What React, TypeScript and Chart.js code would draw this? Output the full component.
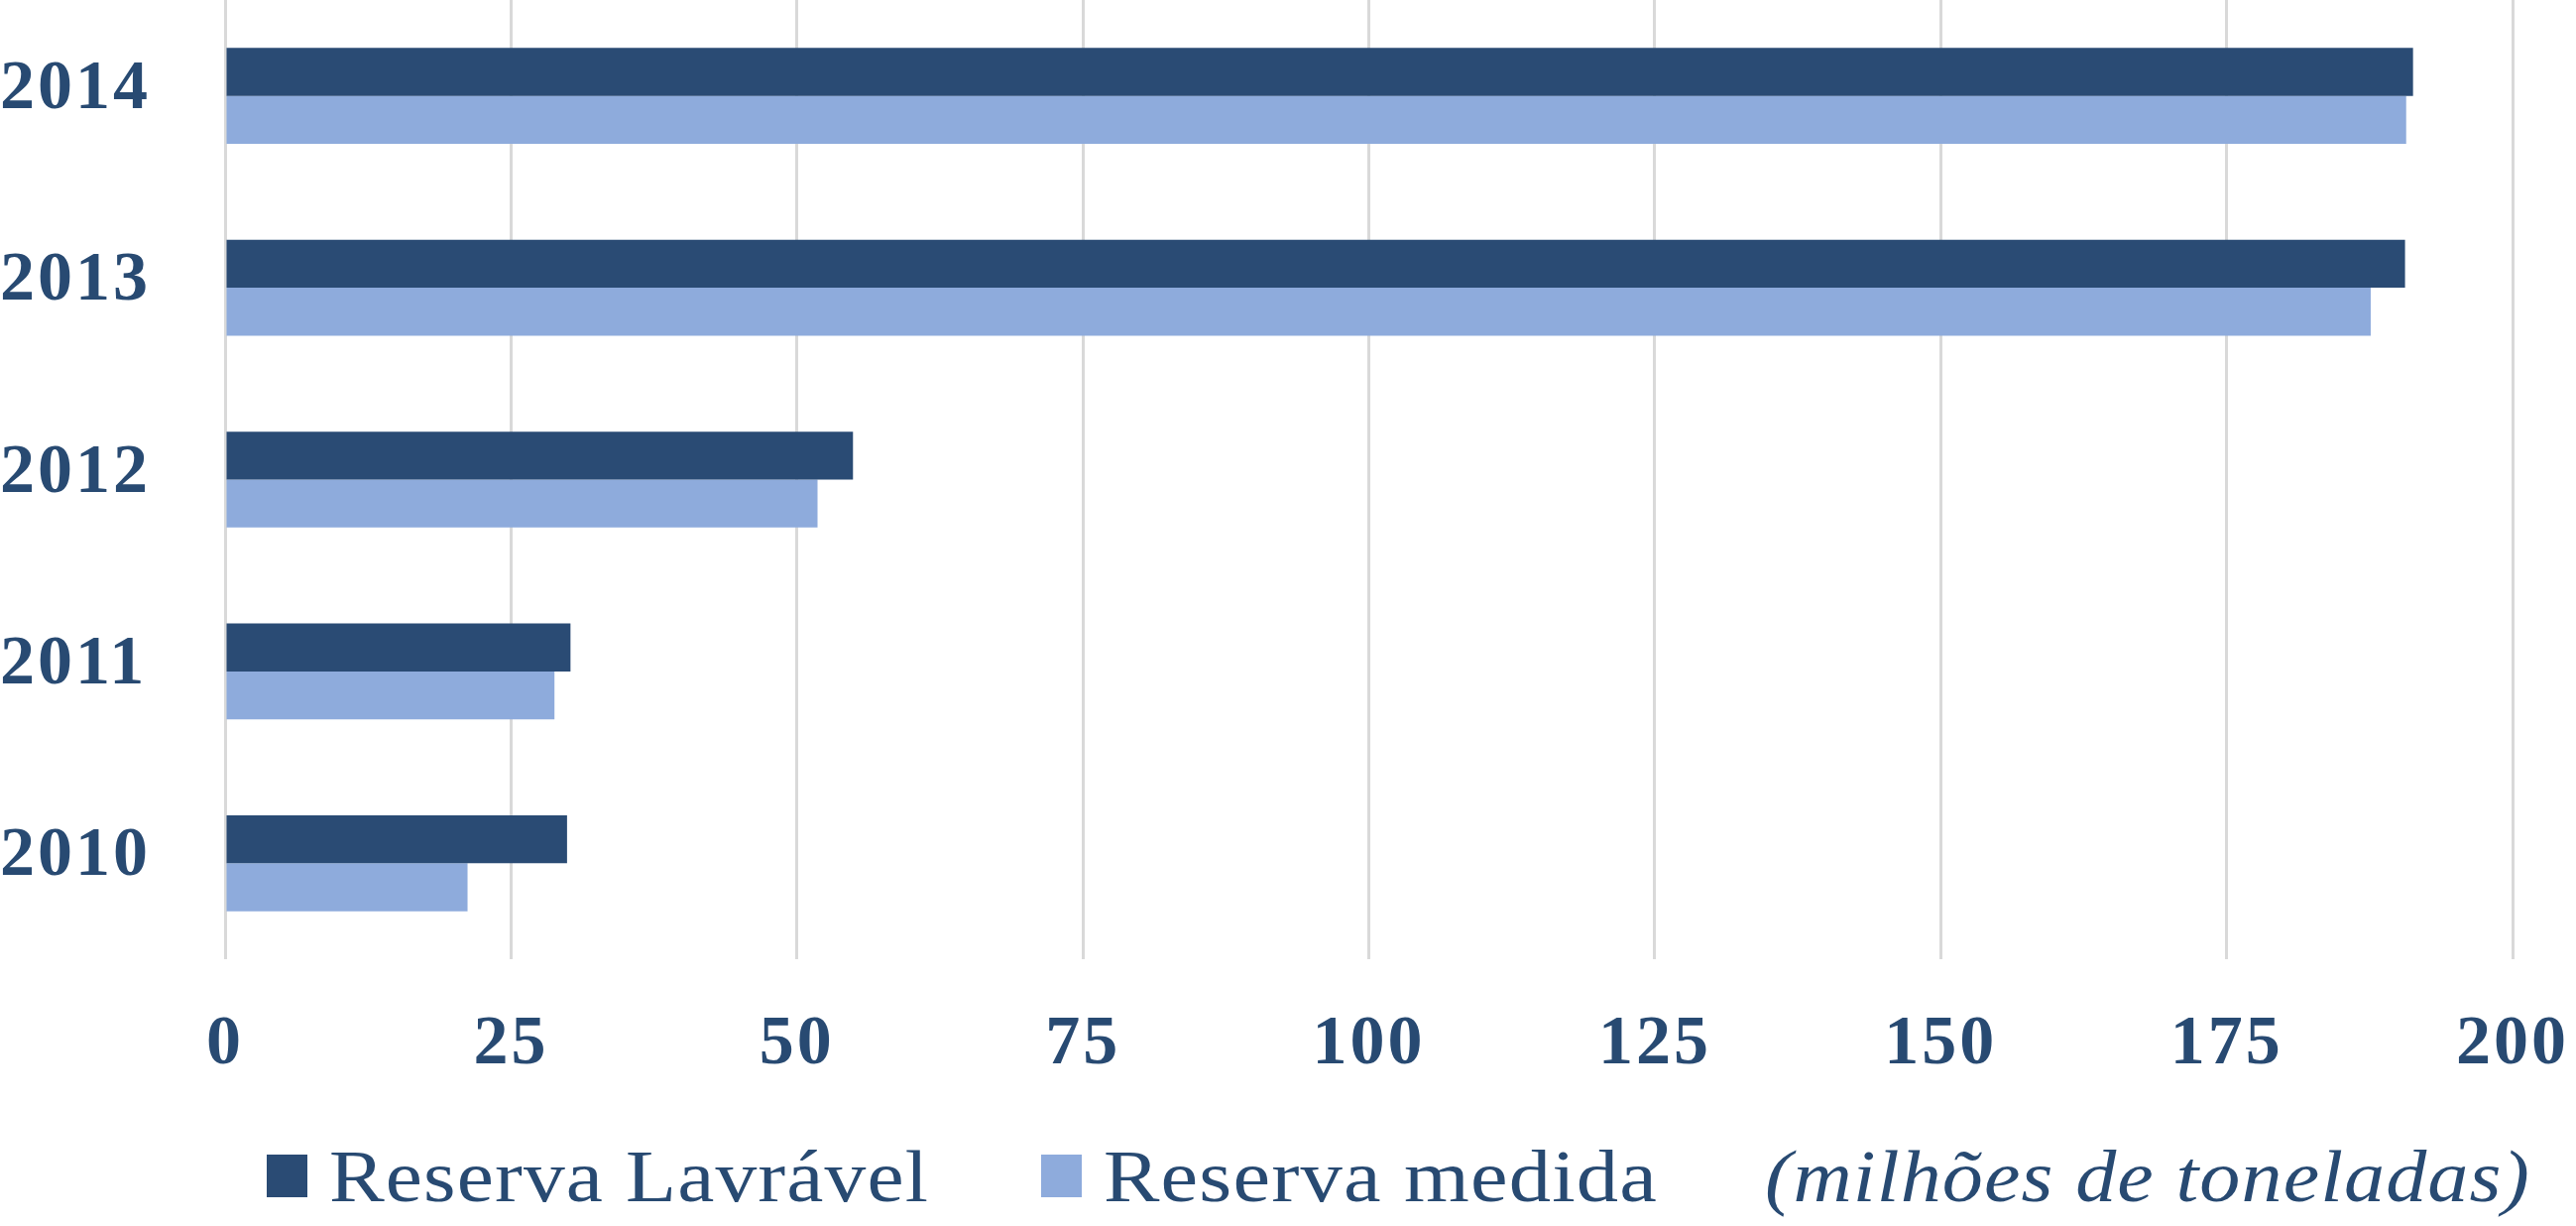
import React, { useEffect, useRef } from 'react';
import { Chart, registerables } from 'chart.js';

Chart.register(...registerables);

// ---- data ----
const categories = ['2014', '2013', '2012', '2011', '2010'];
const reservaLavravel = [191.3, 190.6, 54.9, 30.2, 29.9];
const reservaMedida = [190.7, 187.6, 51.8, 28.8, 21.2];
const xTickValues = [0, 25, 50, 75, 100, 125, 150, 175, 200];
const seriesLabels = ['Reserva Lavrável', 'Reserva medida'];
const unitNote = '(milhões de toneladas)';

// ---- styles ----
const W = 2598;
const H = 1236;
const TEXT = '#284a72';
const DARK = '#2a4b74';
const LIGHT = '#8eabdc';
const GRID = '#d9d9d9';
const FONT = '"Liberation Serif", "Times New Roman", serif';

function drawFitted(ctx: any, text: string, x: number, y: number, targetW: number) {
  const w = ctx.measureText(text).width;
  const sx = targetW / w;
  ctx.save();
  ctx.translate(x, y);
  ctx.scale(sx, 1);
  ctx.fillText(text, 0, 0);
  ctx.restore();
}

const spacingPlugin = {
  id: 'letterSpacing',
  beforeDraw(chart: any) {
    (chart.ctx as any).letterSpacing = '3px';
  },
  afterDraw(chart: any) {
    (chart.ctx as any).letterSpacing = '0px';
  },
};

const legendPlugin = {
  id: 'bottomLegend',
  afterDraw(chart: any) {
    const ctx = chart.ctx;
    ctx.save();
    (ctx as any).letterSpacing = '1px';
    const baseline = 1211;
    const boxX = [269, 1050];
    const textX = [332, 1113];
    const textW = [605, 559];
    chart.data.datasets.forEach((ds: any, i: number) => {
      ctx.fillStyle = ds.backgroundColor;
      ctx.fillRect(boxX[i], 1164, 41, 43);
      ctx.font = `normal 74px ${FONT}`;
      ctx.fillStyle = TEXT;
      ctx.textAlign = 'left';
      ctx.textBaseline = 'alphabetic';
      drawFitted(ctx, ds.label, textX[i], baseline, textW[i]);
    });
    ctx.font = `italic 74px ${FONT}`;
    ctx.fillStyle = TEXT;
    drawFitted(ctx, unitNote, 1780, baseline, 772);
    (ctx as any).letterSpacing = '0px';
    ctx.restore();
  },
};

export default function App() {
  const ref = useRef<HTMLCanvasElement | null>(null);

  useEffect(() => {
    if (!ref.current) return;
    const tickFont = { family: FONT, size: 70, weight: 'bold' as const };
    const chart = new Chart(ref.current, {
      type: 'bar',
      data: {
        labels: categories,
        datasets: [
          {
            label: seriesLabels[0],
            data: reservaLavravel,
            backgroundColor: DARK,
            borderWidth: 0,
            categoryPercentage: 0.5,
            barPercentage: 1.0,
          },
          {
            label: seriesLabels[1],
            data: reservaMedida,
            backgroundColor: LIGHT,
            borderWidth: 0,
            categoryPercentage: 0.5,
            barPercentage: 1.0,
          },
        ],
      },
      options: {
        indexAxis: 'y',
        responsive: false,
        animation: false,
        layout: { padding: { left: 0, right: 64, top: 0, bottom: 0 } },
        plugins: {
          legend: { display: false },
          tooltip: { enabled: false },
        },
        scales: {
          x: {
            min: 0,
            max: 200,
            afterBuildTicks: (s: any) => {
              s.ticks = xTickValues.map((v) => ({ value: v }));
            },
            ticks: {
              color: TEXT,
              font: tickFont,
              padding: 45,
              maxRotation: 0,
              autoSkip: false,
            },
            grid: { color: GRID, lineWidth: 3, drawTicks: false },
            border: { display: false },
            afterFit: (s: any) => {
              s.height = 269;
              s.paddingLeft = 0;
              s.paddingRight = 0;
            },
          },
          y: {
            ticks: {
              color: TEXT,
              font: tickFont,
              crossAlign: 'far',
              autoSkip: false,
              labelOffset: -6,
            },
            grid: { display: false, drawTicks: false },
            border: { display: false },
            afterFit: (s: any) => {
              s.width = 227;
              s.paddingTop = 0;
              s.paddingBottom = 0;
            },
          },
        },
      },
      plugins: [spacingPlugin, legendPlugin],
    } as any);
    return () => chart.destroy();
  }, []);

  return (
    <div style={{ position: 'fixed', left: 0, top: 0, width: W, height: H, background: '#fff' }}>
      <canvas ref={ref} width={W} height={H} style={{ display: 'block', width: W, height: H }} />
    </div>
  );
}
